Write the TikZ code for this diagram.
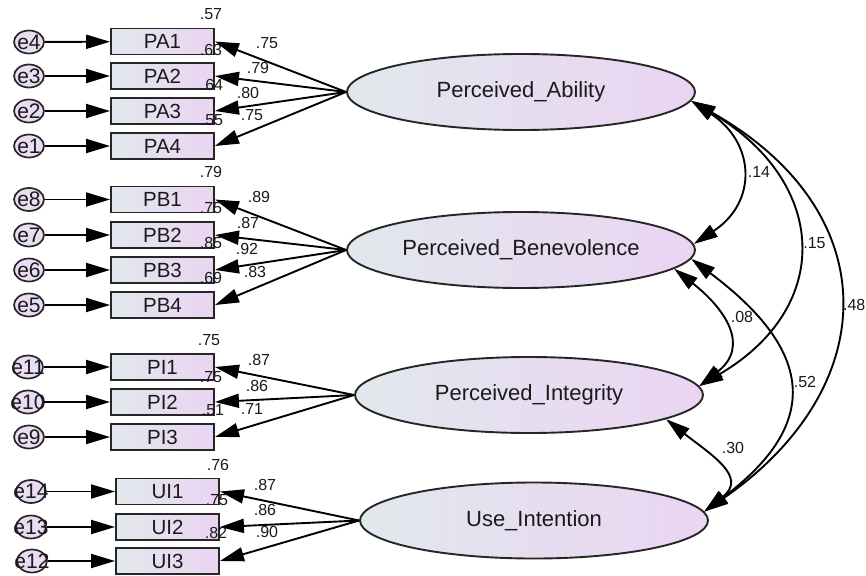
\documentclass[tikz,border=0pt]{standalone}
\usepackage{fontspec}
\setmainfont{Liberation Sans}
\usetikzlibrary{arrows.meta,shapes.geometric}
\definecolor{fillL}{HTML}{E1E8EC}
\definecolor{fillR}{HTML}{EBD4F3}
\definecolor{errfill}{HTML}{EADCF3}
\definecolor{txt}{HTML}{1A1A1A}
\begin{document}
\begin{tikzpicture}[x=1pt,y=-1pt,
  >={Triangle[length=24pt,width=14pt]},
  obs/.style={draw=black!85, line width=1.9pt, left color=fillL, right color=fillR,
    minimum width=103pt, minimum height=26pt, inner sep=0pt,
    font=\fontsize{20.5}{20.5}\selectfont, text=txt},
  lat/.style={ellipse, draw=black!85, line width=1.9pt, left color=fillL, right color=fillR,
    minimum width=348pt, minimum height=76pt, inner sep=0pt,
    font=\fontsize{22}{22}\selectfont, text=txt},
  err/.style={ellipse, draw=black!85, line width=1.7pt, fill=errfill,
    minimum width=30pt, minimum height=23pt, inner sep=0pt},
  errtxt/.style={font=\fontsize{21}{21}\selectfont, text=txt, inner sep=0pt},
  lbl/.style={font=\fontsize{16}{16}\selectfont, text=txt, inner sep=0pt},
  con/.style={line width=1.9pt, ->},
  cor/.style={line width=1.9pt, <->},
]
\useasboundingbox (0,0) rectangle (866,575);
\fill[white] (0,0) rectangle (866,575);

% latent variables
\node[lat] (PA) at (521,92)    {Perceived\_Ability};
\node[lat] (PB) at (521,250)   {Perceived\_Benevolence};
\node[lat] (PI) at (529,395)   {Perceived\_Integrity};
\node[lat] (UI) at (534,520.5) {Use\_Intention};

% observed variables
\node[obs] (PA1) at (162.5,41.5) {PA1};
\node[obs] (PA2) at (162.5,76)   {PA2};
\node[obs] (PA3) at (162.5,111)  {PA3};
\node[obs] (PA4) at (162.5,146)  {PA4};
\node[obs] (PB1) at (162.5,199.5) {PB1};
\node[obs] (PB2) at (162.5,235)   {PB2};
\node[obs] (PB3) at (162.5,270)   {PB3};
\node[obs] (PB4) at (162.5,305)   {PB4};
\node[obs] (PI1) at (162.5,367) {PI1};
\node[obs] (PI2) at (162.5,402) {PI2};
\node[obs] (PI3) at (162.5,437) {PI3};
\node[obs] (UI1) at (167.5,491.5) {UI1};
\node[obs] (UI2) at (167.5,527)   {UI2};
\node[obs] (UI3) at (167.5,561)   {UI3};

% error terms
\node[err, label={[errtxt]center:e4}] (e4) at (29,42) {};
\node[err, label={[errtxt]center:e3}] (e3) at (29,76) {};
\node[err, label={[errtxt]center:e2}] (e2) at (29,111) {};
\node[err, label={[errtxt]center:e1}] (e1) at (29,146) {};
\node[err, label={[errtxt]center:e8}] (e8) at (29,199.5) {};
\node[err, label={[errtxt]center:e7}] (e7) at (29,235) {};
\node[err, label={[errtxt]center:e6}] (e6) at (29,270) {};
\node[err, label={[errtxt]center:e5}] (e5) at (29,305) {};
\node[err, label={[errtxt]center:e11}] (e11) at (28,367) {};
\node[err, label={[errtxt]center:e10}] (e10) at (28,402) {};
\node[err, label={[errtxt]center:e9}] (e9) at (29,437) {};
\node[err, label={[errtxt]center:e14}] (e14) at (31,491.5) {};
\node[err, label={[errtxt]center:e13}] (e13) at (31,527) {};
\node[err, label={[errtxt]center:e12}] (e12) at (32,561) {};

% error arrows
\foreach \e/\o in {e4/PA1,e3/PA2,e2/PA3,e1/PA4,e8/PB1,e7/PB2,e6/PB3,e5/PB4,
                   e11/PI1,e10/PI2,e9/PI3,e14/UI1,e13/UI2,e12/UI3}
  \draw[con] (\e) -- (\o);

% loadings
\foreach \o in {PA1,PA2,PA3,PA4} \draw[con] (PA.west) -- (\o.east);
\foreach \o in {PB1,PB2,PB3,PB4} \draw[con] (PB.west) -- (\o.east);
\foreach \o in {PI1,PI2,PI3} \draw[con] (PI.west) -- (\o.east);
\foreach \o in {UI1,UI2,UI3} \draw[con] (UI.west) -- (\o.east);

% correlations
\draw[cor] (PA.-3) .. controls +(64,42) and +(64,-42) .. (PB.2);
\draw[cor] (PA.-3) .. controls +(136,80) and +(136,-80) .. (PI.3);
\draw[cor] (PA.-3) .. controls +(195,110) and +(180,-125) .. (UI.3);
\draw[cor] (PB.-7) .. controls +(51,40) and +(51,-40) .. (PI.3);
\draw[cor] (PB.-3) .. controls +(120,90) and +(120,-90) .. (UI.3);
\draw[cor] (PI.-10) .. controls +(44,35) and +(44,-35) .. (UI.3);

% R squared labels
\node[lbl] (r1) at (211,14) {.57};
\node[lbl] (r2) at (211,50) {.63};
\node[lbl] (r3) at (212,85) {.64};
\node[lbl] (r4) at (212,120) {.55};
\node[lbl] (r5) at (211,172) {.79};
\node[lbl] (r6) at (211,208) {.75};
\node[lbl] (r7) at (211,243) {.85};
\node[lbl] (r8) at (211,278) {.69};
\node[lbl] (r9) at (209,340) {.75};
\node[lbl] (r10) at (211,377) {.75};
\node[lbl] (r11) at (213,410) {.51};
\node[lbl] (r12) at (218,465) {.76};
\node[lbl] (r13) at (217,500) {.75};
\node[lbl] (r14) at (216,533) {.82};

% loading labels
\node[lbl] (l1) at (267,43) {.75};
\node[lbl] (l2) at (258,68) {.79};
\node[lbl] (l3) at (248,93) {.80};
\node[lbl] (l4) at (252,115) {.75};
\node[lbl] (l5) at (259,197) {.89};
\node[lbl] (l6) at (248,223) {.87};
\node[lbl] (l7) at (247,249) {.92};
\node[lbl] (l8) at (255,272) {.83};
\node[lbl] (l9) at (259,360) {.87};
\node[lbl] (l10) at (257,386) {.86};
\node[lbl] (l11) at (252,409) {.71};
\node[lbl] (l12) at (265,485) {.87};
\node[lbl] (l13) at (265,510) {.86};
\node[lbl] (l14) at (267,532) {.90};

% correlation labels
\node[lbl] (c1) at (759,172) {.14};
\node[lbl] (c2) at (814.5,243) {.15};
\node[lbl, anchor=east] (c3) at (865.5,305) {.48};
\node[lbl] (c4) at (742,317) {.08};
\node[lbl] (c5) at (805,382) {.52};
\node[lbl] (c6) at (733,448) {.30};
\end{tikzpicture}
\end{document}
